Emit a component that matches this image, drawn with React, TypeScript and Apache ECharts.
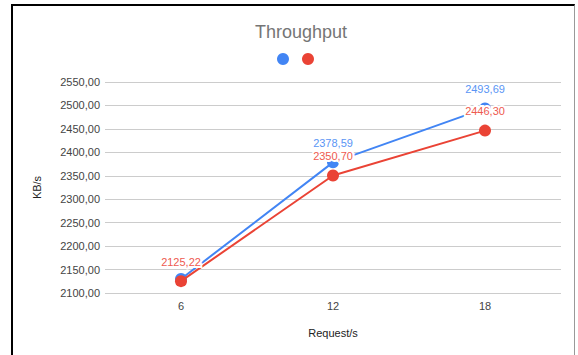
import React, { useEffect, useRef } from "react";
import * as echarts from "echarts";

const categories = ["6", "12", "18"];
const blueValues = [2130, 2378.59, 2493.69];
const redValues = [2125.22, 2350.7, 2446.3];
const blueLabelShown = [false, true, true];
const redLabelShown = [true, true, true];
const yMin = 2100;
const yMax = 2550;
const yStep = 50;

const fmt = (v: number) => v.toFixed(2).replace(".", ",");

export default function App() {
  const ref = useRef<HTMLDivElement>(null);
  useEffect(() => {
    if (!ref.current) return;
    const chart = echarts.init(ref.current, null, { renderer: "svg" });
    const font = "'Liberation Sans', Arial, sans-serif";
    const mkData = (vals: number[], shown: boolean[]) =>
      vals.map((v, i) => ({ value: v, label: { show: shown[i] } }));
    chart.setOption({
      animation: false,
      backgroundColor: "#ffffff",
      textStyle: { fontFamily: font },
      title: {
        text: "Throughput",
        left: 296,
        textAlign: "center",
        top: 18,
        textStyle: { color: "#757575", fontSize: 18, fontWeight: "normal", fontFamily: font },
      },
      legend: {
        left: 272,
        top: 48,
        itemWidth: 12,
        itemHeight: 12,
        itemGap: 13,
        icon: "circle",
        formatter: () => "",
        selectedMode: false,
        data: ["Series 1", "Series 2"],
      },
      grid: { left: 105, right: 17, top: 82, bottom: 62, containLabel: false },
      xAxis: {
        type: "category",
        data: categories,
        boundaryGap: true,
        name: "Request/s",
        nameLocation: "middle",
        nameGap: 34,
        nameTextStyle: { color: "#222", fontSize: 11, fontFamily: font },
        axisLine: { show: false },
        axisTick: { show: false },
        axisLabel: { color: "#444", fontSize: 11, margin: 7, fontFamily: font },
        splitLine: { show: false },
      },
      yAxis: {
        type: "value",
        min: yMin,
        max: yMax,
        interval: yStep,
        name: "KB/s",
        nameLocation: "middle",
        nameGap: 63,
        nameTextStyle: { color: "#222", fontSize: 11, fontFamily: font },
        axisLine: { show: false },
        axisTick: { show: false },
        axisLabel: { color: "#444", fontSize: 11, margin: 5, fontFamily: font, formatter: (v: number) => fmt(v) },
        splitLine: { lineStyle: { color: "#cccccc", width: 1 } },
      },
      series: [
        {
          name: "Series 1",
          type: "line",
          data: mkData(blueValues, blueLabelShown),
          color: "#4285F4",
          lineStyle: { width: 2, color: "#4285F4" },
          symbol: "circle",
          symbolSize: 12,
          itemStyle: { color: "#4285F4" },
          label: {
            position: "top",
            distance: 8,
            color: "#5A95F5",
            fontSize: 11,
            fontFamily: font,
            textBorderColor: "#ffffff",
            textBorderWidth: 4,
            formatter: (p: any) => fmt(p.value),
          },
          emphasis: { disabled: true },
          z: 2,
        },
        {
          name: "Series 2",
          type: "line",
          data: mkData(redValues, redLabelShown),
          color: "#EA4335",
          lineStyle: { width: 2, color: "#EA4335" },
          symbol: "circle",
          symbolSize: 12,
          itemStyle: { color: "#EA4335" },
          label: {
            position: "top",
            distance: 8,
            color: "#EE5A4F",
            fontSize: 11,
            fontFamily: font,
            textBorderColor: "#ffffff",
            textBorderWidth: 4,
            formatter: (p: any) => fmt(p.value),
          },
          emphasis: { disabled: true },
          z: 3,
        },
      ],
    });
    return () => chart.dispose();
  }, []);
  return (
    <div style={{ position: "fixed", left: 0, top: 0, width: 578, height: 355, background: "#fff" }}>
      <div ref={ref} style={{ position: "absolute", left: 0, top: 0, width: 578, height: 355 }} />
      <div
        style={{
          position: "absolute",
          left: 11,
          top: 4,
          width: 564,
          height: 400,
          borderLeft: "2px solid #000",
          borderTop: "2px solid #000",
          borderRight: "1px solid #999",
          boxSizing: "border-box",
          pointerEvents: "none",
        }}
      />
    </div>
  );
}
